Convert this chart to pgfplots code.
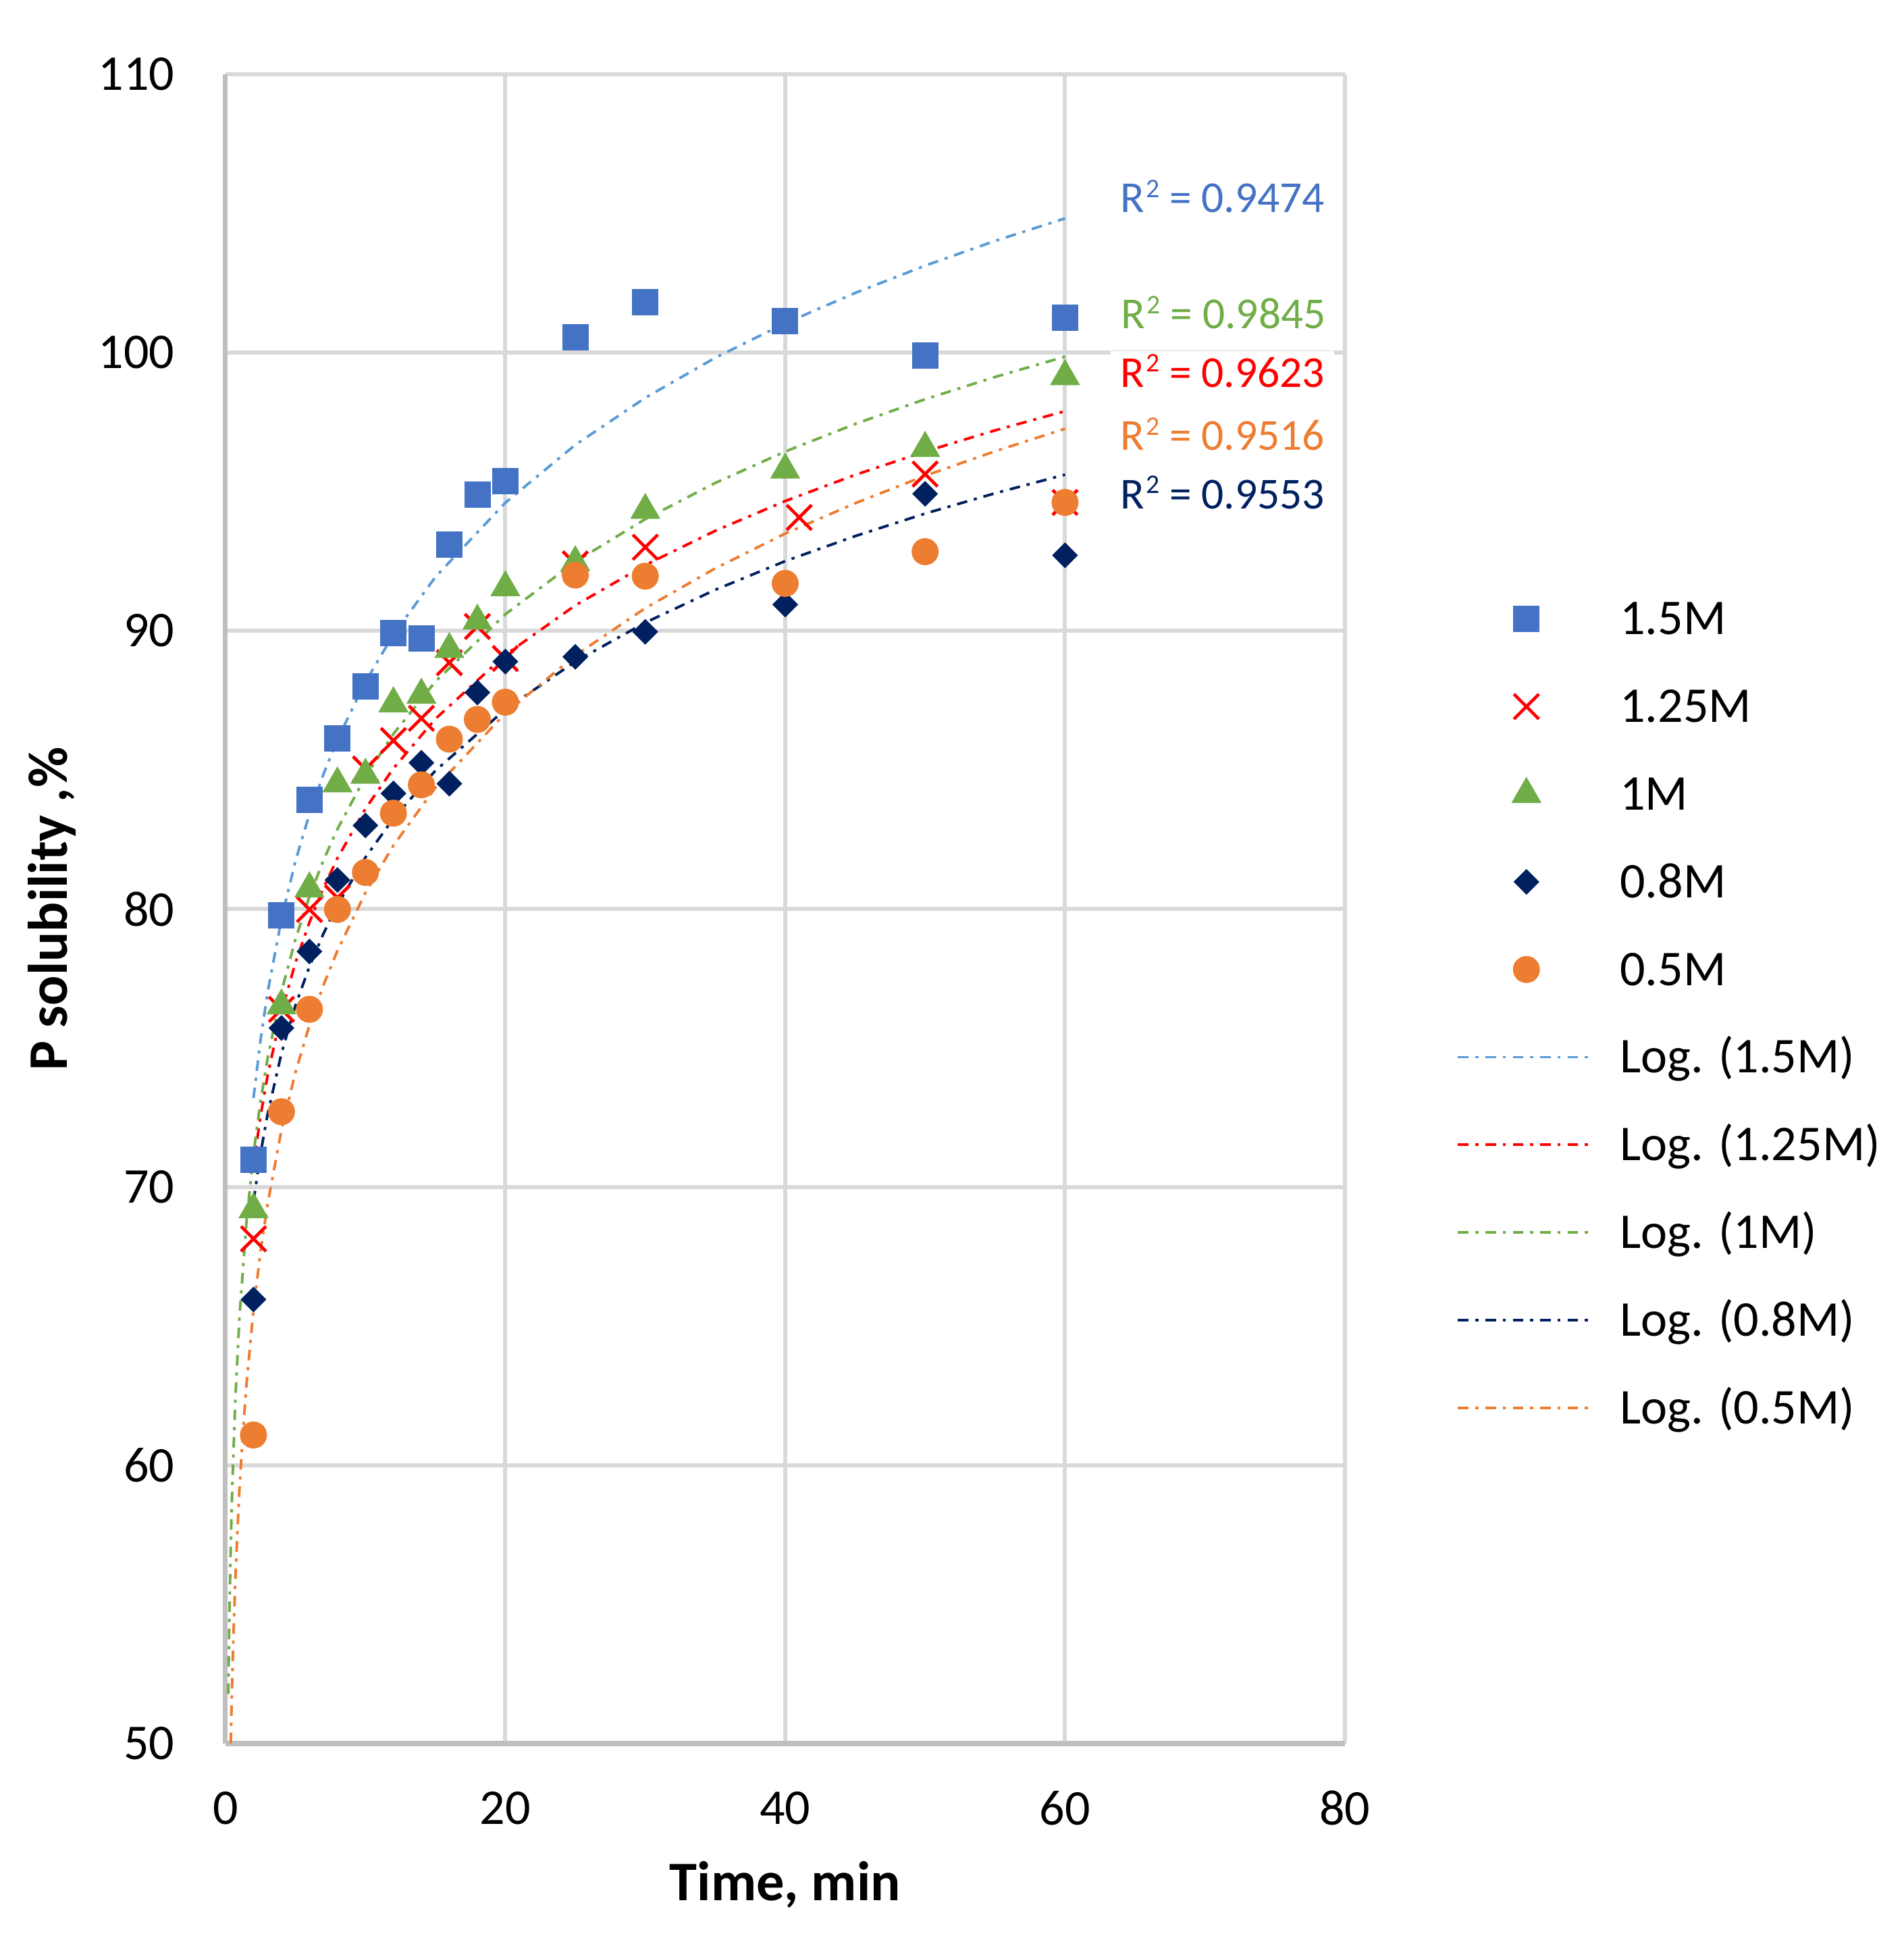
\documentclass[border=0pt]{standalone}
\usepackage{fontspec}
\setmainfont{Carlito}
\usepackage{pgfplots}
\pgfplotsset{compat=1.18}
\definecolor{c15}{HTML}{4472C4}
\definecolor{c15t}{HTML}{5B9BD5}
\definecolor{c125}{HTML}{FF0000}
\definecolor{c1}{HTML}{70AD47}
\definecolor{c08}{HTML}{002060}
\definecolor{c05}{HTML}{ED7D31}
\definecolor{gridc}{HTML}{D9D9D9}
\definecolor{axc}{HTML}{BFBFBF}
\newcommand{\Rsq}{R\kern0.3pt\raisebox{2.9pt}{\fontsize{5.1}{6}\selectfont 2}}
\tikzset{trend/.style={line width=0.5pt, dash pattern=on 2pt off 1.3pt on 0.6pt off 1.3pt, no marks}}
\tikzset{r2/.style={anchor=west, fill=white, inner xsep=1.8pt, inner ysep=1.5pt, text height=5.3pt, text depth=0pt, font=\fontsize{8.4}{10}\selectfont, xshift=-1.8pt}}
\begin{document}
\begin{tikzpicture}
\path[use as bounding box] (-42.82pt,-36.54pt) rectangle (318.59pt,331.02pt);
\begin{axis}[
  at={(0,0)}, anchor=south west,
  scale only axis, width=212.56pt, height=316.92pt,
  xmin=0, xmax=80, ymin=50, ymax=110,
  xtick={0,20,40,60,80}, ytick={50,60,70,80,90,100,110},
  axis lines=left,
  axis line style={-, draw=axc, line width=0.9pt},
  grid=major, major grid style={draw=gridc, line width=0.77pt},
  major tick length=0pt,
  /pgf/number format/assume math mode=true,
  tick label style={font=\fontsize{9.5}{11}\selectfont, inner sep=0pt},
  yticklabel style={anchor=east, xshift=-9.5pt},
  xticklabel style={anchor=center, yshift=-12.3pt},
  xlabel={Time, min}, ylabel={P solubility ,\%},
  label style={font=\bfseries\fontsize{10.6}{12}\selectfont},
  xlabel style={at={(axis description cs:0.5,-0.0846)}, anchor=center},
  ylabel style={at={(axis description cs:-0.155,0.5)}, anchor=center},
  legend style={draw=none, fill=none, at={(axis description cs:1.0989,0.6854)}, anchor=north west,
    inner sep=0pt, column sep=4.5pt, row sep=8.34pt, font=\fontsize{9.5}{11}\selectfont,
    nodes={inner sep=0pt, text height=6.5pt, text depth=1.8pt, anchor=base west}},
  legend cell align=left,
  legend image code/.code={\draw[mark repeat=2,mark phase=2,#1] plot coordinates {(0pt,3pt) (13pt,3pt) (26pt,3pt)};},
]
% data series
\addplot[only marks, mark=square*, mark size=2.3pt, color=c15] coordinates {
(2,70.98) (4,79.76) (6,83.92) (8,86.14) (10,88.0) (12,89.91) (14,89.72) (16,93.1) (18,94.88) (20,95.37) (25,100.55) (30,101.8) (40,101.13) (50,99.89) (60,101.26)};
\addlegendentry{1.5M}
\addplot[only marks, mark=x, mark size=3.35pt, color=c125, mark options={line width=0.6pt}] coordinates {
(2,68.14) (4,76.39) (6,79.98) (8,80.4) (10,85.03) (12,86.05) (14,86.85) (16,88.85) (18,90.15) (20,89.0) (25,92.4) (30,93.0) (41,94.07) (50,95.63) (60,94.61)};
\addlegendentry{1.25M}
\addplot[only marks, mark=triangle*, mark size=2.9pt, color=c1] coordinates {
(2,69.2) (4,76.52) (6,80.73) (8,84.5) (10,84.81) (12,87.38) (14,87.69) (16,89.33) (18,90.35) (20,91.55) (25,92.45) (30,94.33) (40,95.78) (50,96.56) (60,99.14)};
\addlegendentry{1M}
\addplot[only marks, mark=square*, mark size=1.53pt, mark options={rotate=45}, color=c08] coordinates {
(2,65.96) (4,75.72) (6,78.47) (8,81.04) (10,83.0) (12,84.15) (14,85.25) (16,84.5) (18,87.78) (20,88.89) (25,89.06) (30,89.96) (40,90.94) (50,94.92) (60,92.71)};
\addlegendentry{0.8M}
\addplot[only marks, mark=*, mark size=2.36pt, color=c05] coordinates {
(2,61.09) (4,72.71) (6,76.39) (8,79.98) (10,81.31) (12,83.44) (14,84.46) (16,86.1) (18,86.81) (20,87.43) (25,92.0) (30,91.96) (40,91.7) (50,92.84) (60,94.61)};
\addlegendentry{0.5M}
% logarithmic trendlines
\addplot[trend, color=c15t] coordinates {
(2,73.20) (2.5,75.27) (3,76.97) (4,79.64) (5,81.72) (6,83.41) (7,84.84) (8,86.09) (10,88.16) (12,89.86) (15,91.93) (20,94.60) (25,96.68) (30,98.37) (35,99.81) (40,101.05) (45,102.14) (50,103.12) (55,104.01) (60,104.82)};
\addlegendentry{Log. (1.5M)}
\addplot[trend, color=c125] coordinates {
(2,70.76) (2.5,72.54) (3,73.99) (4,76.29) (5,78.07) (6,79.52) (7,80.75) (8,81.82) (10,83.60) (12,85.05) (15,86.83) (20,89.13) (25,90.91) (30,92.36) (35,93.59) (40,94.66) (45,95.60) (50,96.44) (55,97.20) (60,97.89)};
\addlegendentry{Log. (1.25M)}
\addplot[trend, color=c1] coordinates {
(0.2,51.78) (0.25,53.66) (0.3,55.20) (0.35,56.50) (0.4,57.62) (0.5,59.50) (0.7,62.34) (1,65.35) (1.5,68.76) (2,71.19) (2.5,73.07) (3,74.61) (4,77.03) (5,78.91) (6,80.45) (7,81.75) (8,82.87) (10,84.75) (12,86.29) (15,88.17) (20,90.59) (25,92.48) (30,94.01) (35,95.31) (40,96.44) (45,97.43) (50,98.32) (55,99.12) (60,99.85)};
\addlegendentry{Log. (1M)}
\addplot[trend, color=c08] coordinates {
(2,69.49) (2.5,71.20) (3,72.60) (4,74.81) (5,76.53) (6,77.93) (7,79.11) (8,80.14) (10,81.85) (12,83.25) (15,84.97) (20,87.17) (25,88.89) (30,90.29) (35,91.47) (40,92.50) (45,93.40) (50,94.21) (55,94.94) (60,95.61)};
\addlegendentry{Log. (0.8M)}
\addplot[trend, color=c05] coordinates {
(0.375,50.01) (0.4,50.61) (0.5,52.69) (0.6,54.38) (0.7,55.82) (0.85,57.63) (1,59.14) (1.25,61.22) (1.5,62.92) (2,65.59) (2.5,67.67) (3,69.37) (4,72.05) (5,74.13) (6,75.82) (7,77.26) (8,78.50) (10,80.58) (12,82.28) (15,84.36) (20,87.03) (25,89.11) (30,90.81) (35,92.24) (40,93.49) (45,94.58) (50,95.57) (55,96.45) (60,97.26)};
\addlegendentry{Log. (0.5M)}
% R^2 labels
\node[r2, text=c15] at (axis cs:63.87,105.53) {\Rsq{} = 0.9474};
\node[r2, text=c1] at (axis cs:63.95,101.36) {\Rsq{} = 0.9845};
\node[r2, text=c125] at (axis cs:63.87,99.26) {\Rsq{} = 0.9623};
\node[r2, text=c05] at (axis cs:63.87,96.99) {\Rsq{} = 0.9516};
\node[r2, text=c08] at (axis cs:63.87,94.89) {\Rsq{} = 0.9553};
\end{axis}
\end{tikzpicture}
\end{document}
